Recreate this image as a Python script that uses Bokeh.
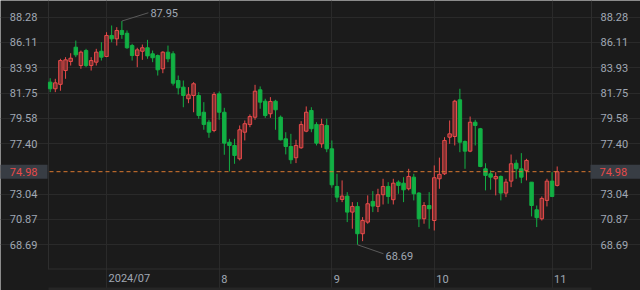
from bokeh.plotting import figure
from bokeh.models import Range1d, LinearAxis, FixedTicker, NumeralTickFormatter, Span, Label
from bokeh.embed import file_html
from bokeh.resources import INLINE

# ---- data ----
opens = [82.69, 82.12, 82.50, 83.69, 84.47, 85.70, 84.12, 85.41, 84.12, 84.41,
         85.35, 84.90, 86.71, 86.42, 87.14, 86.90, 85.84, 84.98, 85.35, 85.65,
         85.13, 84.98, 83.84, 85.27, 85.13, 82.83, 82.26, 81.26, 81.54, 81.54,
         80.10, 79.24, 78.53, 81.69, 80.10, 77.52, 77.24, 76.09, 78.38, 79.04,
         79.67, 82.03, 81.05, 79.97, 81.05, 79.67, 77.81, 77.15, 76.18, 77.04,
         78.47, 80.25, 79.05, 77.38, 78.96, 76.95, 73.71, 72.59, 72.88, 71.50,
         71.99, 69.64, 70.64, 72.42, 71.99, 73.00, 73.71, 72.57, 74.08, 73.99,
         73.51, 74.51, 73.14, 70.93, 72.07, 70.78, 74.37, 74.80, 77.95, 78.01,
         81.17, 77.58, 76.75, 79.24, 78.68, 75.23, 74.80, 74.37, 74.57, 73.14,
         74.17, 75.71, 75.23, 75.09, 74.08, 71.70, 70.93, 72.51, 74.17, 73.80]
highs = [83.03, 82.98, 84.70, 84.84, 85.18, 86.27, 85.41, 85.56, 84.84, 85.56,
         86.13, 86.99, 87.57, 87.42, 87.95, 87.14, 85.99, 85.65, 85.93, 86.33,
         85.41, 85.07, 85.35, 85.84, 85.35, 83.26, 82.83, 82.26, 82.69, 81.83,
         80.97, 79.45, 81.83, 81.89, 80.48, 77.81, 77.81, 78.96, 79.39, 79.91,
         82.46, 82.32, 81.26, 81.40, 81.17, 79.82, 78.38, 78.24, 77.73, 79.33,
         80.60, 80.53, 79.24, 79.54, 79.54, 77.67, 74.80, 74.23, 73.22, 72.36,
         72.36, 71.07, 72.94, 73.31, 73.51, 74.37, 74.08, 74.37, 74.23, 74.51,
         75.23, 74.80, 73.22, 72.36, 73.22, 75.52, 76.19, 77.95, 79.39, 81.17,
         82.12, 77.67, 79.73, 79.45, 78.75, 75.71, 75.09, 74.94, 74.66, 74.37,
         76.46, 76.01, 76.58, 76.09, 74.08, 72.07, 72.85, 74.37, 74.94, 75.43]
lows = [81.83, 81.83, 81.95, 82.98, 84.12, 84.84, 83.84, 83.98, 83.69, 84.12,
        84.55, 84.84, 86.13, 85.84, 86.42, 85.56, 84.55, 83.98, 84.61, 84.70,
        84.41, 83.26, 83.46, 84.41, 82.40, 81.63, 80.53, 80.88, 80.10, 79.54,
        78.59, 77.90, 78.38, 79.45, 76.44, 75.00, 75.66, 75.95, 77.67, 78.81,
        79.45, 80.40, 79.62, 79.62, 78.59, 77.67, 76.47, 75.66, 75.72, 76.95,
        78.38, 78.38, 77.24, 77.04, 76.66, 73.60, 72.36, 72.36, 70.64, 70.07,
        68.69, 69.00, 70.50, 71.50, 71.50, 72.16, 72.22, 72.16, 73.08, 72.36,
        73.37, 72.51, 70.21, 70.50, 70.07, 69.92, 73.51, 74.70, 77.38, 77.24,
        76.66, 75.23, 76.66, 77.24, 75.37, 73.37, 73.43, 72.94, 72.51, 72.79,
        73.65, 74.37, 73.99, 74.23, 71.13, 70.21, 70.78, 71.99, 72.79, 73.71]
closes = [82.12, 82.63, 84.55, 84.61, 84.75, 85.04, 85.27, 84.12, 84.55, 85.27,
          84.84, 86.71, 86.42, 87.14, 86.79, 85.65, 84.98, 85.47, 85.65, 84.95,
          84.79, 83.75, 85.27, 84.70, 82.60, 82.20, 81.54, 81.60, 82.55, 79.82,
          79.05, 78.38, 81.63, 80.10, 77.44, 77.24, 76.38, 78.59, 79.11, 79.73,
          81.91, 80.97, 79.82, 81.03, 80.31, 77.73, 77.15, 76.01, 77.24, 79.05,
          80.10, 78.68, 77.44, 79.05, 76.95, 73.85, 72.79, 72.88, 71.50, 71.99,
          69.64, 70.78, 72.22, 72.02, 73.00, 73.71, 72.85, 73.99, 73.80, 73.42,
          74.57, 73.08, 70.93, 72.07, 71.79, 74.46, 74.75, 77.67, 78.24, 81.05,
          77.52, 76.75, 79.24, 78.96, 75.43, 74.66, 74.51, 74.57, 73.14, 74.08,
          75.66, 75.23, 74.51, 75.95, 72.07, 71.02, 72.68, 74.17, 72.85, 74.98]
month_idx = [11, 33, 55, 75, 98]
month_labels = ["2024/07", "8", "9", "10", "11"]
y_ticks = [68.69, 70.87, 73.04, 77.40, 79.58, 81.75, 83.93, 86.11, 88.28]

# ---- style ----
BG = "#1b1b1b"
GRID = "#2a2a2a"
BORDER = "#2e2e2e"
TXT = "#a0a8b4"
UP = "#e84a4a"
UP_FILL = "#7a3030"
DOWN = "#12b044"
FONT = "Roboto"

W, H = 640, 290
PL, PR, PT, PB = 48, 591, 0, 269        # plot-area edges in pixels
X0, X1 = -0.33, 105.7                   # data at plot-area left / right
Y0, Y1 = 66.56, 89.72                   # data at plot-area bottom / top
sx = (PR - PL) / (X1 - X0)
sy = (PB - PT) / (Y1 - Y0)
XA, XB = X0 - PL / sx, X1 + (W - PR) / sx
YA, YB = Y0 - (H - PB) / sy, Y1 + PT / sy

idx = list(range(len(closes)))
up = [c >= o for o, c in zip(opens, closes)]
line_cols = [UP if u else DOWN for u in up]
fill_cols = [UP_FILL if u else DOWN for u in up]
tops = [max(o, c) for o, c in zip(opens, closes)]
bots = [min(o, c) for o, c in zip(opens, closes)]

p = figure(width=W, height=H, x_range=Range1d(XA, XB), y_range=Range1d(YA, YB),
           output_backend="svg", toolbar_location=None,
           x_axis_location=None, y_axis_location=None,
           min_border=0, min_border_left=0, min_border_right=0,
           min_border_top=0, min_border_bottom=0,
           background_fill_color=BG, border_fill_color=BG, outline_line_color=None)

p.xgrid.ticker = FixedTicker(ticks=month_idx)
p.xgrid.bounds = (Y0, Y1)
p.ygrid.ticker = FixedTicker(ticks=y_ticks)
p.ygrid.bounds = (X0, X1)
p.grid.grid_line_color = GRID
p.grid.grid_line_width = 1

def make_axis(loc, standoff):
    ax = LinearAxis(fixed_location=loc)
    ax.ticker = FixedTicker(ticks=y_ticks)
    ax.formatter = NumeralTickFormatter(format="0.00")
    ax.axis_line_color = None
    ax.major_tick_line_color = None
    ax.minor_tick_line_color = None
    ax.major_tick_out = 0
    ax.major_tick_in = 0
    ax.major_label_standoff = standoff
    ax.major_label_text_color = TXT
    ax.major_label_text_font = FONT
    ax.major_label_text_font_size = "11px"
    return ax

p.add_layout(make_axis(X0, 11), "left")
p.add_layout(make_axis(X1, 9), "right")

# plot-area border (left, right, bottom) and faint navigator edge at the bottom
bw = 0.5
p.segment(x0=[X0, X1, X0], y0=[Y0, Y0, Y0 + bw / sy],
          x1=[X0, X1, X1], y1=[Y1, Y1, Y0 + bw / sy], line_color=BORDER, line_width=1)
p.segment(x0=[X0], y0=[YA + 1.5 / sy], x1=[X1], y1=[YA + 1.5 / sy],
          line_color="#262626", line_width=3)

# candles
p.segment(x0=idx, y0=lows, x1=idx, y1=highs, line_color=line_cols, line_width=1)
p.vbar(x=idx, width=0.68, top=tops, bottom=bots, fill_color=fill_cols,
       line_color=line_cols, line_width=1)

# last price line
last = closes[-1]
p.add_layout(Span(location=last, dimension="width", line_color="#d9782f",
                  line_dash="4 3", line_width=1))

# price boxes on both axes (x = outer edge of the box next to the plot area)
for xs, align, pad in [(PL - 1, "right", dict(left=13, right=10, top=3, bottom=3)),
                       (PR - 1, "left", dict(left=9, right=16, top=3, bottom=3))]:
    p.add_layout(Label(x=xs, x_units="screen", y=last, y_units="data",
                       text=f"{last:.2f}", text_align=align, text_baseline="middle",
                       text_color=UP, text_font=FONT, text_font_size="11px",
                       background_fill_color="#383d44", padding=pad))

# month labels
for mi, ml in zip(month_idx, month_labels):
    p.add_layout(Label(x=mi, y=H - 278, y_units="screen", x_offset=2, text=ml,
                       text_align="left", text_baseline="middle", text_color=TXT,
                       text_font=FONT, text_font_size="11px"))

# extreme markers
hmax = max(highs); imax = highs.index(hmax)
lmin = min(lows); imin = lows.index(lmin)
hx, hy = imax + 26.5 / sx, hmax + 8.3 / sy
lx, ly = imin + 26.0 / sx, lmin - 9.0 / sy
p.segment(x0=[imax, imin], y0=[hmax, lmin], x1=[hx, lx], y1=[hy, ly],
          line_color="#5a5a5a", line_width=1)
p.add_layout(Label(x=hx, y=hy, x_offset=2, text=f"{hmax:.2f}", text_align="left",
                   text_baseline="middle", text_color=TXT, text_font=FONT,
                   text_font_size="11px"))
p.add_layout(Label(x=lx, y=ly, x_offset=2, y_offset=-2, text=f"{lmin:.2f}",
                   text_align="left", text_baseline="middle", text_color=TXT,
                   text_font=FONT, text_font_size="11px"))

open("out.html", "w").write(file_html(p, INLINE))
